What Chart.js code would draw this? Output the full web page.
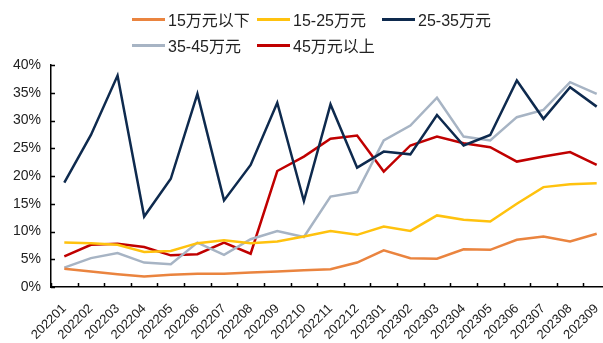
<!DOCTYPE html>
<html>
<head>
<meta charset="utf-8">
<script src="https://cdn.jsdelivr.net/npm/chart.js@4.4.1/dist/chart.umd.min.js"></script>
<style>
  html, body { margin: 0; padding: 0; background: #fff; }
  .wrap { position: relative; width: 603px; height: 343px; overflow: hidden; }
  #cv { position: absolute; left: 0; top: 0; }
  .legend {
    position: absolute; left: 132px; top: 6px;
    display: grid; grid-template-columns: 125px 125px 125px; grid-auto-rows: 26px;
    font-family: "Liberation Sans Narrow", "Liberation Sans", "Noto Sans CJK SC", sans-serif;
    font-size: 16px; color: #222;
  }
  .legend span { display: flex; align-items: center; white-space: nowrap; }
  .legend i { display: inline-block; width: 33px; height: 3px; margin-right: 3px; }
</style>
</head>
<body>
<div class="wrap">
  <canvas id="cv" width="615" height="343"></canvas>
  <div class="legend" id="legend"></div>
</div>
<script>
const months = ['202201','202202','202203','202204','202205','202206','202207','202208','202209','202210',
  '202211','202212','202301','202302','202303','202304','202305','202306','202307','202308','202309'];

const under15 = [3.3, 2.8, 2.3, 1.9, 2.2, 2.4, 2.4, 2.6, 2.8, 3.0, 3.2, 4.4, 6.6, 5.2, 5.1, 6.8, 6.7, 8.5, 9.1, 8.2, 9.6];
const from15to25 = [8.0, 7.9, 7.6, 6.3, 6.5, 7.9, 8.4, 7.9, 8.2, 9.1, 10.1, 9.4, 10.9, 10.1, 12.9, 12.1, 11.8, 15.0, 18.0, 18.5, 18.7];
const from25to35 = [18.8, 27.4, 38.1, 12.7, 19.5, 34.8, 15.6, 22.0, 33.2, 15.5, 32.9, 21.5, 24.4, 23.9, 31.0, 25.5, 27.4, 37.2, 30.3, 36.0, 32.5];
const from35to45 = [3.5, 5.2, 6.1, 4.4, 4.1, 8.0, 5.8, 8.6, 10.1, 9.0, 16.3, 17.1, 26.4, 29.1, 34.1, 27.1, 26.4, 30.6, 31.9, 36.9, 34.8];
const over45 = [5.5, 7.6, 7.8, 7.2, 5.7, 5.9, 8.0, 6.0, 20.9, 23.5, 26.7, 27.3, 20.8, 25.5, 27.1, 25.9, 25.2, 22.6, 23.5, 24.3, 22.0];

const yTicks = [0, 5, 10, 15, 20, 25, 30, 35, 40];

const series = [
  { label: '15万元以下', data: under15, color: '#EA843F' },
  { label: '15-25万元', data: from15to25, color: '#FFC20E' },
  { label: '25-35万元', data: from25to35, color: '#0E2A4E' },
  { label: '35-45万元', data: from35to45, color: '#A7B4C4' },
  { label: '45万元以上', data: over45, color: '#C00000' }
];

// legend laid out in a fixed grid, second row lines up with the first
const legend = document.getElementById('legend');
series.forEach(s => {
  const item = document.createElement('span');
  item.innerHTML = `<i style="background:${s.color}"></i>${s.label}`;
  legend.appendChild(item);
});

const axisFont = { family: '"Liberation Sans Narrow", "Liberation Sans", Arial, sans-serif', size: 14 };

// short tick marks pointing into the plot
const innerTicks = {
  id: 'innerTicks',
  afterDraw(chart) {
    const ctx = chart.ctx;
    const x = chart.scales.x, y = chart.scales.y;
    ctx.save();
    ctx.strokeStyle = '#000';
    ctx.lineWidth = 1.5;
    ctx.beginPath();
    for (let k = 0; k <= months.length; k++) {
      const px = Math.round(x.getPixelForValue(k - 0.5)) + 0.5;
      ctx.moveTo(px, y.bottom);
      ctx.lineTo(px, y.bottom - 4);
    }
    yTicks.forEach(v => {
      const py = Math.round(y.getPixelForValue(v)) + 0.5;
      ctx.moveTo(x.left, py);
      ctx.lineTo(x.left + 4, py);
    });
    ctx.stroke();
    ctx.restore();
  }
};

new Chart(document.getElementById('cv'), {
  type: 'line',
  data: {
    labels: months,
    datasets: series.map(s => ({
      label: s.label,
      data: s.data,
      borderColor: s.color,
      backgroundColor: s.color,
      borderWidth: 2.5,
      pointRadius: 0,
      tension: 0,
      fill: false
    }))
  },
  options: {
    responsive: false,
    animation: false,
    layout: { padding: { top: 65, right: 5, left: 0, bottom: 0 } },
    plugins: { legend: { display: false }, tooltip: { enabled: false } },
    scales: {
      x: {
        offset: true,
        grid: { display: false, offset: true },
        border: { color: '#000', width: 1.5 },
        ticks: {
          color: '#222', font: { ...axisFont, size: 13 },
          maxRotation: 45, minRotation: 45, autoSkip: false, padding: 6
        },
        afterFit(scale) { scale.height = 56; }
      },
      y: {
        min: 0, max: 40,
        grid: { display: false, drawTicks: false },
        border: { color: '#000', width: 1.5 },
        ticks: {
          color: '#222', font: axisFont, padding: 10,
          callback: v => v + '%'
        },
        afterBuildTicks(scale) { scale.ticks = yTicks.map(v => ({ value: v })); },
        afterFit(scale) { scale.width = 51; }
      }
    }
  },
  plugins: [innerTicks]
});
</script>
</body>
</html>
